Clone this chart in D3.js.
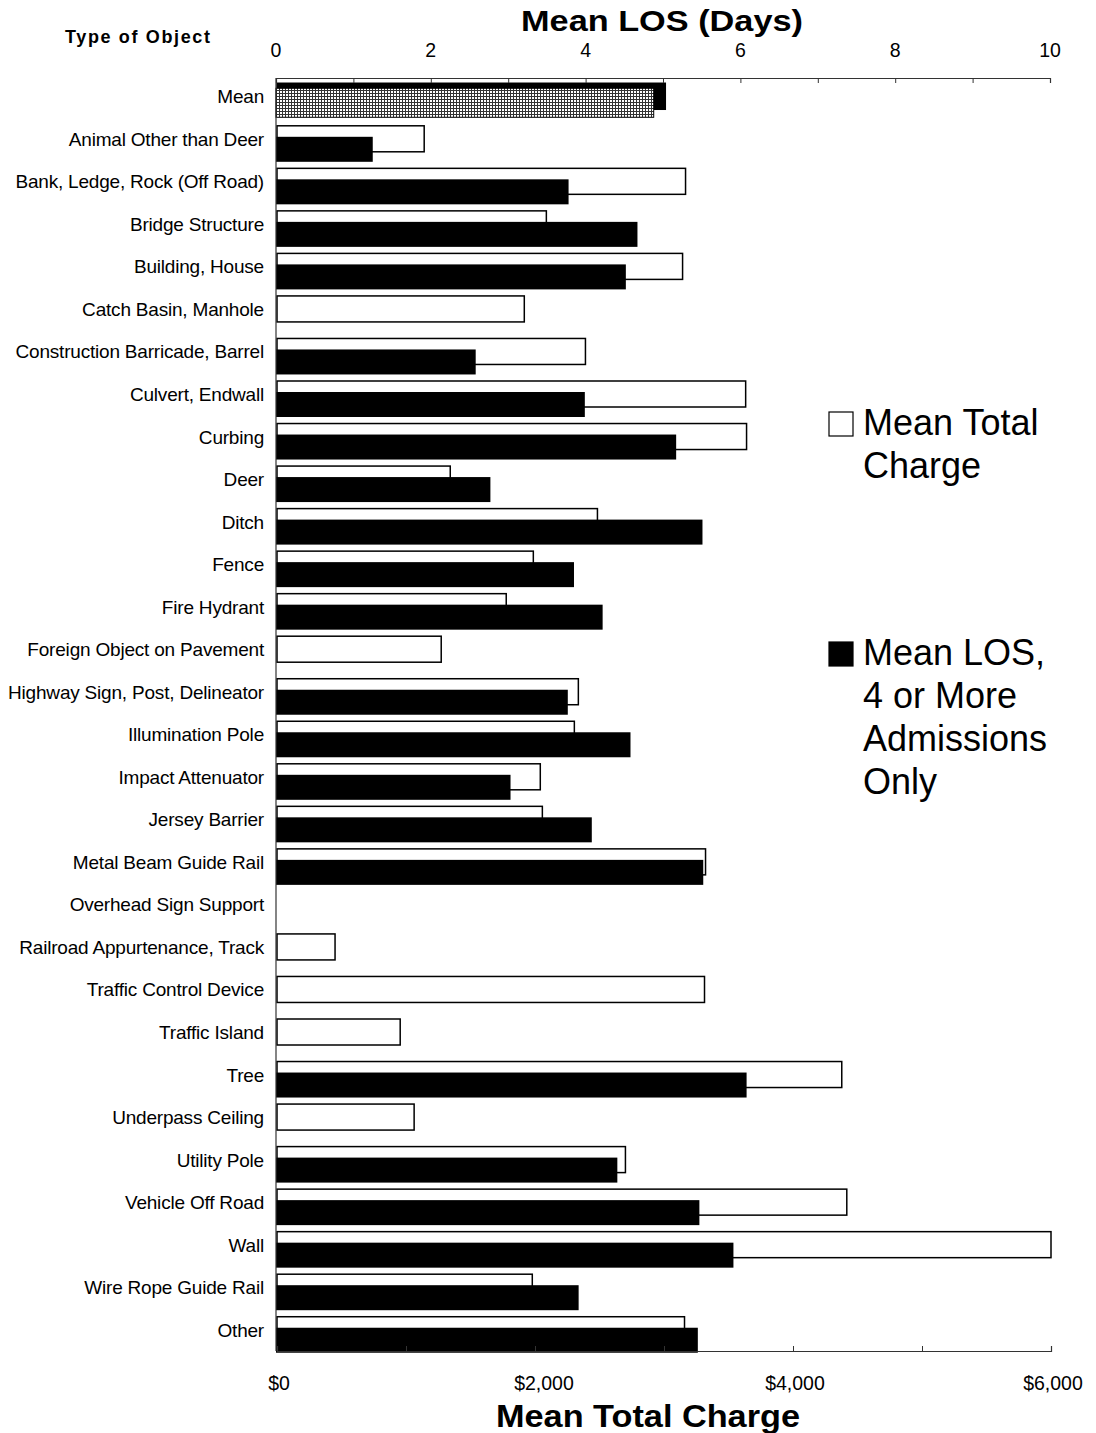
<!DOCTYPE html>
<html>
<head>
<meta charset="utf-8">
<script src="https://cdn.jsdelivr.net/npm/d3@7"></script>
<style>
  html, body { margin: 0; padding: 0; background: #fff; }
  svg { display: block; }
</style>
</head>
<body>
<svg id="chart" width="1096" height="1433"></svg>
<script>
const categories = [
  "Mean", "Animal Other than Deer", "Bank, Ledge, Rock (Off Road)", "Bridge Structure",
  "Building, House", "Catch Basin, Manhole", "Construction Barricade, Barrel", "Culvert, Endwall",
  "Curbing", "Deer", "Ditch", "Fence", "Fire Hydrant", "Foreign Object on Pavement",
  "Highway Sign, Post, Delineator", "Illumination Pole", "Impact Attenuator", "Jersey Barrier",
  "Metal Beam Guide Rail", "Overhead Sign Support", "Railroad Appurtenance, Track",
  "Traffic Control Device", "Traffic Island", "Tree", "Underpass Ceiling", "Utility Pole",
  "Vehicle Off Road", "Wall", "Wire Rope Guide Rail", "Other"
];
// Mean Total Charge ($)
const meanCharge = [
  3010, 1141, 3167, 2088, 3144, 1917, 2391, 3633, 3640, 1343, 2484, 1987, 1777, 1273,
  2336, 2305, 2041, 2057, 3322, null, 450, 3314, 955, 4378, 1063, 2701, 4417, 6000, 1979, 3159
];
// Mean LOS (days), 4 or more admissions only
const meanLOS = [
  4.88, 1.25, 3.78, 4.67, 4.52, null, 2.58, 3.99, 5.17, 2.77, 5.51, 3.85, 4.22, null,
  3.77, 4.58, 3.03, 4.08, 5.52, null, null, null, null, 6.08, null, 4.41, 5.47, 5.91, 3.91, 5.45
];
const losTicks = [0, 1, 2, 3, 4, 5, 6, 7, 8, 9, 10];
const losTickLabels = [0, 2, 4, 6, 8, 10];
const chargeTicks = [0, 1000, 2000, 3000, 4000, 5000, 6000];
const chargeTickLabels = [0, 2000, 4000, 6000];

const svg = d3.select("#chart");
const FONT = "'Liberation Sans', Arial, sans-serif";

// pattern for the Mean row
const defs = svg.append("defs");
const pat = defs.append("pattern").attr("id", "hatch").attr("patternUnits", "userSpaceOnUse")
  .attr("width", 3).attr("height", 3);
pat.append("rect").attr("width", 3).attr("height", 3).attr("fill", "#fff");
pat.append("rect").attr("width", 3).attr("height", 1).attr("fill", "#333");
pat.append("rect").attr("width", 1).attr("height", 3).attr("fill", "#333");

const xCharge = d3.scaleLinear().domain([0, 6000]).range([277, 1051]);
const xLOS = d3.scaleLinear().domain([0, 10]).range([276, 1050]);
const y = d3.scaleBand().domain(categories).range([80, 1356]).padding(0);

const axisTop = 78, axisBottom = 1351, axisLeft = 276;

const g = svg.append("g");
categories.forEach((c, i) => {
  const cy = y(c) + y.bandwidth() / 2;
  const ch = meanCharge[i];
  const los = meanLOS[i];
  if (ch != null) {
    g.append("rect")
      .attr("x", xCharge(0))
      .attr("y", cy - 18)
      .attr("width", xCharge(ch) - xCharge(0))
      .attr("height", 26)
      .attr("fill", i === 0 ? "#000" : "#fff")
      .attr("stroke", "#000")
      .attr("stroke-width", 1.5);
  }
  if (los != null) {
    if (i === 0) {
      g.append("rect")
        .attr("x", xLOS(0))
        .attr("y", cy - 13)
        .attr("width", xLOS(los) - xLOS(0))
        .attr("height", 29)
        .attr("fill", "url(#hatch)")
        .attr("stroke", "#000")
        .attr("stroke-width", 1);
    } else {
      g.append("rect")
        .attr("x", xLOS(0))
        .attr("y", cy - 7)
        .attr("width", xLOS(los) - xLOS(0))
        .attr("height", 25)
        .attr("fill", "#000");
    }
  }
});

// axes
const topAxis = d3.axisTop(xLOS).tickValues(losTicks).tickSize(-5).tickFormat("");
svg.append("g").attr("transform", `translate(0,${axisTop})`).call(topAxis)
  .call(s => s.select(".domain").attr("stroke", "#333").attr("stroke-width", 1.2))
  .call(s => s.selectAll(".tick line").attr("stroke", "#333"));
const bottomAxis = d3.axisBottom(xCharge).tickValues(chargeTicks).tickSize(-5).tickFormat("");
svg.append("g").attr("transform", `translate(0,${axisBottom})`).call(bottomAxis)
  .call(s => s.select(".domain").attr("stroke", "#333").attr("stroke-width", 1.2))
  .call(s => s.selectAll(".tick line").attr("stroke", "#333"));
svg.append("line").attr("x1", axisLeft).attr("x2", axisLeft)
  .attr("y1", axisTop).attr("y2", axisBottom).attr("stroke", "#333").attr("stroke-width", 1.2);

// tick labels
svg.append("g").selectAll("text").data(losTickLabels).join("text")
  .attr("x", d => xLOS(d)).attr("y", 57)
  .attr("text-anchor", "middle").attr("font-family", FONT).attr("font-size", 19.5)
  .text(d => d);
svg.append("g").selectAll("text").data(chargeTickLabels).join("text")
  .attr("x", d => xCharge(d) + (d === 2000 ? 9 : 2)).attr("y", 1390)
  .attr("text-anchor", "middle").attr("font-family", FONT).attr("font-size", 19.5)
  .text(d => "$" + d3.format(",")(d));

// category labels
svg.append("g").selectAll("text").data(categories).join("text")
  .attr("x", 264).attr("y", d => y(d) + y.bandwidth() / 2 + 2)
  .attr("text-anchor", "end").attr("font-family", FONT).attr("font-size", 19)
  .attr("letter-spacing", -0.2)
  .text(d => d);

// titles
svg.append("text").attr("x", 662).attr("y", 31).attr("text-anchor", "middle")
  .attr("font-family", FONT).attr("font-weight", "bold").attr("font-size", 30)
  .attr("textLength", 282).attr("lengthAdjust", "spacingAndGlyphs")
  .text("Mean LOS (Days)");
svg.append("text").attr("x", 65).attr("y", 43)
  .attr("font-family", FONT).attr("font-weight", "bold").attr("font-size", 18)
  .attr("textLength", 145).attr("lengthAdjust", "spacing")
  .text("Type of Object");
svg.append("text").attr("x", 648).attr("y", 1427).attr("text-anchor", "middle")
  .attr("font-family", FONT).attr("font-weight", "bold").attr("font-size", 32)
  .attr("textLength", 304).attr("lengthAdjust", "spacingAndGlyphs")
  .text("Mean Total Charge");

// legend
const legend = [
  { fill: "#fff", lines: ["Mean Total", "Charge"], y: 435 },
  { fill: "#000", lines: ["Mean LOS,", "4 or More", "Admissions", "Only"], y: 665 }
];
legend.forEach(L => {
  svg.append("rect").attr("x", 829).attr("y", L.y - 23).attr("width", 24).attr("height", 24)
    .attr("fill", L.fill).attr("stroke", "#000").attr("stroke-width", 1.2);
  L.lines.forEach((t, k) => {
    svg.append("text").attr("x", 863).attr("y", L.y + k * 43)
      .attr("font-family", FONT).attr("font-size", 36).text(t);
  });
});
</script>
</body>
</html>
